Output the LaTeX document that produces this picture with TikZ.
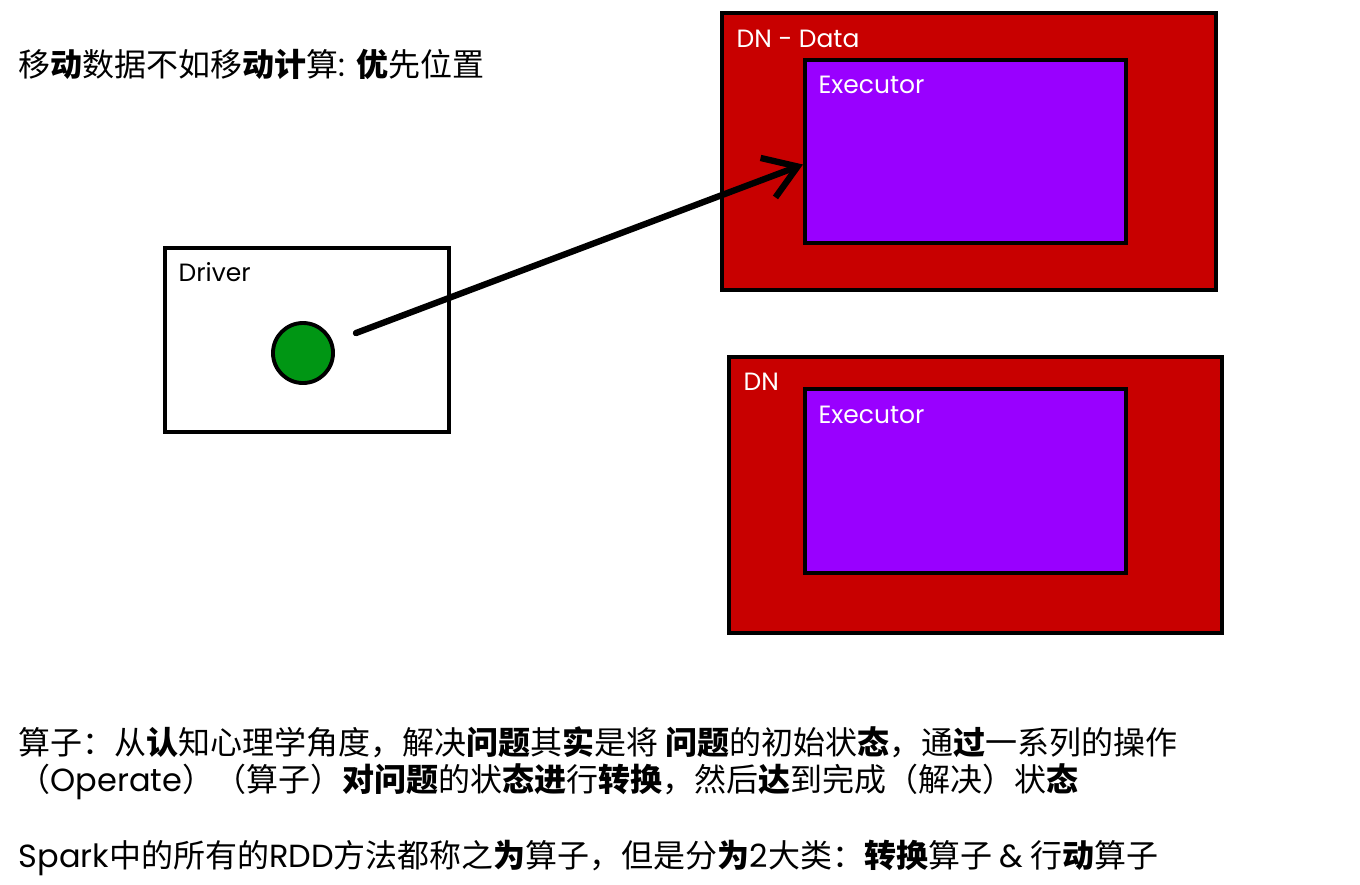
\documentclass[tikz,border=0pt]{standalone}
\usepackage{fontspec}
\setmainfont{Poppins}
\newfontfamily\cjk{Noto Sans CJK SC}
\usetikzlibrary{arrows.meta}
\definecolor{dnred}{RGB}{200,0,0}
\definecolor{execpurple}{RGB}{153,0,255}
\definecolor{dotgreen}{RGB}{0,150,20}
\newcommand\bd[1]{{\bfseries #1}}
\newcommand\en[1]{{\rmfamily #1}}
\tikzset{
  box/.style={draw=black,line width=1.1pt,rectangle,inner sep=0pt},
  dnbox/.style={box,fill=dnred,minimum width=4.94cm,minimum height=2.77cm},
  execbox/.style={box,fill=execpurple,minimum width=3.21cm,minimum height=1.83cm},
  lbl/.style={anchor=west,inner sep=0pt,font=\fontsize{7.1}{8}\selectfont},
  txt/.style={anchor=west,inner sep=0pt,font=\fontsize{9.1}{11}\selectfont\cjk},
  flow/.style={line width=1.8pt,line cap=round,-{Straight Barb[length=9pt,width=12pt,line width=1.8pt]}}
}
\begin{document}
\begin{tikzpicture}[x=0.01cm,y=-0.01cm]
\useasboundingbox (0,0) rectangle (1360,884);

\node[txt] (title) at (18,64) {移\bd{动}数据不如移\bd{动计}算\en{: }\bd{优}先位置};

\node[box,fill=white,minimum width=2.84cm,minimum height=1.84cm] (driver) at (307,340) {};
\node[lbl] at ([shift={(15,26)}]driver.north west) {Driver};
\node[draw=black,line width=1.1pt,circle,fill=dotgreen,minimum size=0.6cm,inner sep=0pt] (dot) at (303,353) {};

\node[dnbox] (dndata) at (969,151.5) {};
\node[lbl,text=white] at ([shift={(16,28)}]dndata.north west) {DN - Data};
\node[execbox] (exec1) at (965.5,151.5) {};
\node[lbl,text=white] at ([shift={(15,27)}]exec1.north west) {Executor};

\node[dnbox,minimum width=4.93cm,minimum height=2.76cm] (dn) at (975.5,495) {};
\node[lbl,text=white] at ([shift={(16,27)}]dn.north west) {DN};
\node[execbox,minimum height=1.84cm] (exec2) at (965.5,481) {};
\node[lbl,text=white] at ([shift={(15,28)}]exec2.north west) {Executor};

\draw[flow,shorten <=7pt] (dot) -- ([yshift=-0.13cm]exec1.west);

\node[txt] (line1) at (18,742) {算子：从\bd{认}知心理学角度，解决\bd{问题}其\bd{实}是将 \bd{问题}的初始状\bd{态}，通\bd{过}一系列的操作};
\node[txt] (line2) at (18,782) {（\en{Operate}）（算子）\bd{对问题}的状\bd{态进}行\bd{转换}，然后\bd{达}到完成（解决）状\bd{态}};
\node[txt] (line3) at (18,858) {\en{Spark}中的所有的\en{RDD}方法都称之\bd{为}算子，但是分\bd{为}\en{2}大类：\bd{转换}算子 \en{\&} 行\bd{动}算子};
\end{tikzpicture}
\end{document}
